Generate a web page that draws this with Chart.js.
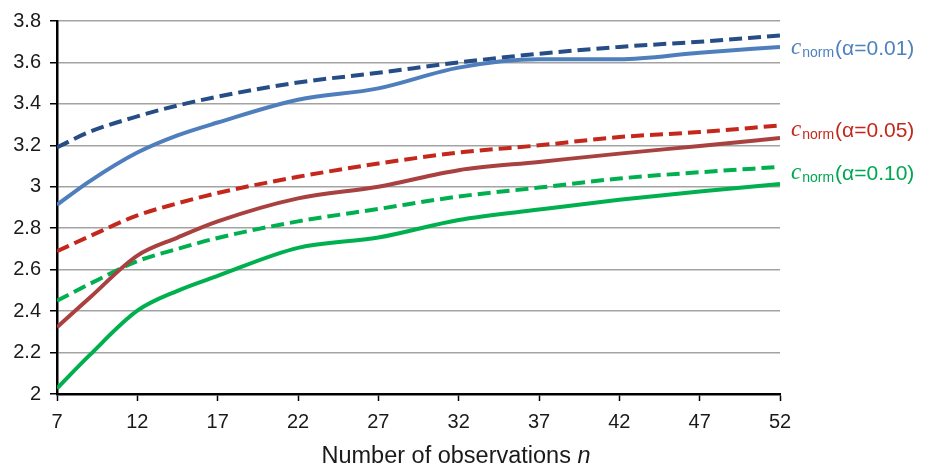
<!DOCTYPE html>
<html>
<head>
<meta charset="utf-8">
<script src="https://cdn.jsdelivr.net/npm/chart.js@4/dist/chart.umd.min.js"></script>
<style>
html,body{margin:0;padding:0;background:#fff;}
canvas{display:block;}
</style>
</head>
<body>
<canvas id="c" width="931" height="469"></canvas>
<script>
// ---- data ----
const nObs = [7, 9, 12, 14.5, 17, 22, 27, 32, 37, 42, 47, 52];
const blueSolid  = [2.913, 3.025, 3.165, 3.248, 3.310, 3.420, 3.475, 3.575, 3.615, 3.615, 3.647, 3.675];
const blueDashed = [3.190, 3.264, 3.340, 3.392, 3.435, 3.503, 3.550, 3.600, 3.642, 3.675, 3.700, 3.730];
const redSolid   = [2.322, 2.462, 2.668, 2.755, 2.833, 2.944, 3.000, 3.080, 3.120, 3.160, 3.197, 3.235];
const redDashed  = [2.689, 2.760, 2.862, 2.920, 2.970, 3.048, 3.112, 3.165, 3.200, 3.240, 3.264, 3.296];
const greenSolid = [2.027, 2.185, 2.402, 2.498, 2.570, 2.705, 2.755, 2.840, 2.890, 2.937, 2.977, 3.013];
const greenDashed= [2.450, 2.530, 2.641, 2.700, 2.753, 2.833, 2.893, 2.953, 2.996, 3.040, 3.070, 3.096];
const xTicks = {min: 7, max: 52, step: 5};
const yTicks = {min: 2, max: 3.8, step: 0.2};
const seriesLabels = ["(α=0.01)", "(α=0.05)", "(α=0.10)"];
const labelAnchors = [3.637, 3.240, 3.034];
const xTitle = "Number of observations ";
const xTitleVar = "n";

const pts = arr => arr.map((v, i) => ({x: nObs[i], y: v}));
const COL = {
  blueS: '#4F7EBC', blueD: '#264D86',
  redS: '#A8413F', redD: '#C4281C',
  greenS: '#00B04F', greenD: '#00B04F',
  blueL: '#4F81BD', redL: '#C4281C', greenL: '#00A650'
};
const ds = (data, color, dashed) => ({
  data: pts(data), borderColor: color, backgroundColor: color,
  borderWidth: 4, pointRadius: 0, fill: false,
  cubicInterpolationMode: 'monotone',
  borderDash: dashed ? [13, 6] : [], borderCapStyle: 'butt'
});
const FONT = '"Liberation Sans", Arial, sans-serif';

const labelPlugin = {
  id: 'labels',
  afterDraw(chart) {
    const ctx = chart.ctx;
    const y = chart.scales.y;
    const area = chart.chartArea;
    const cols = [COL.blueL, COL.redL, COL.greenL];
    ctx.save();
    ctx.textBaseline = 'alphabetic';
    ctx.textAlign = 'left';
    seriesLabels.forEach((t, i) => {
      const by = y.getPixelForValue(labelAnchors[i]);
      let x = area.right + 11;
      ctx.fillStyle = cols[i];
      ctx.font = 'italic 23px "Liberation Serif", "DejaVu Serif", serif';
      ctx.fillText('c', x, by - 1);
      x += ctx.measureText('c').width + 1;
      ctx.font = '14px ' + FONT;
      ctx.fillText('norm', x, by + 2);
      x += ctx.measureText('norm').width + 1;
      ctx.font = '21px ' + FONT;
      ctx.fillText(t, x, by);
    });
    // x-axis title
    ctx.fillStyle = '#1a1a1a';
    ctx.font = '23.5px ' + FONT;
    const w1 = ctx.measureText(xTitle).width;
    ctx.font = 'italic 23.5px ' + FONT;
    const w2 = ctx.measureText(xTitleVar).width;
    const cx = 456;
    let x0 = cx - (w1 + w2) / 2;
    ctx.font = '23.5px ' + FONT;
    ctx.fillText(xTitle, x0, 463);
    ctx.font = 'italic 23.5px ' + FONT;
    ctx.fillText(xTitleVar, x0 + w1, 463);
    ctx.restore();
  }
};

new Chart(document.getElementById('c'), {
  type: 'line',
  data: {
    datasets: [
      ds(blueSolid, COL.blueS, false),
      ds(blueDashed, COL.blueD, true),
      ds(redSolid, COL.redS, false),
      ds(redDashed, COL.redD, true),
      ds(greenSolid, COL.greenS, false),
      ds(greenDashed, COL.greenD, true)
    ]
  },
  options: {
    responsive: false,
    animation: false,
    events: [],
    layout: {padding: {top: 18, right: 151, left: 0, bottom: 0}},
    plugins: {legend: {display: false}, tooltip: {enabled: false}},
    scales: {
      x: {
        type: 'linear', min: xTicks.min, max: xTicks.max,
        afterFit: s => { s.height = 75; },
        ticks: {stepSize: xTicks.step, color: '#1a1a1a', padding: 9,
          font: {family: FONT, size: 20}},
        grid: {drawOnChartArea: false, drawTicks: true, tickLength: 7, tickColor: '#000', tickWidth: 1.5},
        border: {color: '#000', width: 2.5}
      },
      y: {
        type: 'linear', min: yTicks.min, max: yTicks.max,
        afterFit: s => { s.width = 57; },
        ticks: {stepSize: yTicks.step, color: '#1a1a1a', padding: 9,
          font: {family: FONT, size: 20},
          callback: v => String(+v.toFixed(1))},
        grid: {color: '#a3a3a3', lineWidth: 1.5, tickLength: 7, tickColor: '#000', tickWidth: 1.5},
        border: {color: '#000', width: 2.5}
      }
    }
  },
  plugins: [labelPlugin]
});
</script>
</body>
</html>
